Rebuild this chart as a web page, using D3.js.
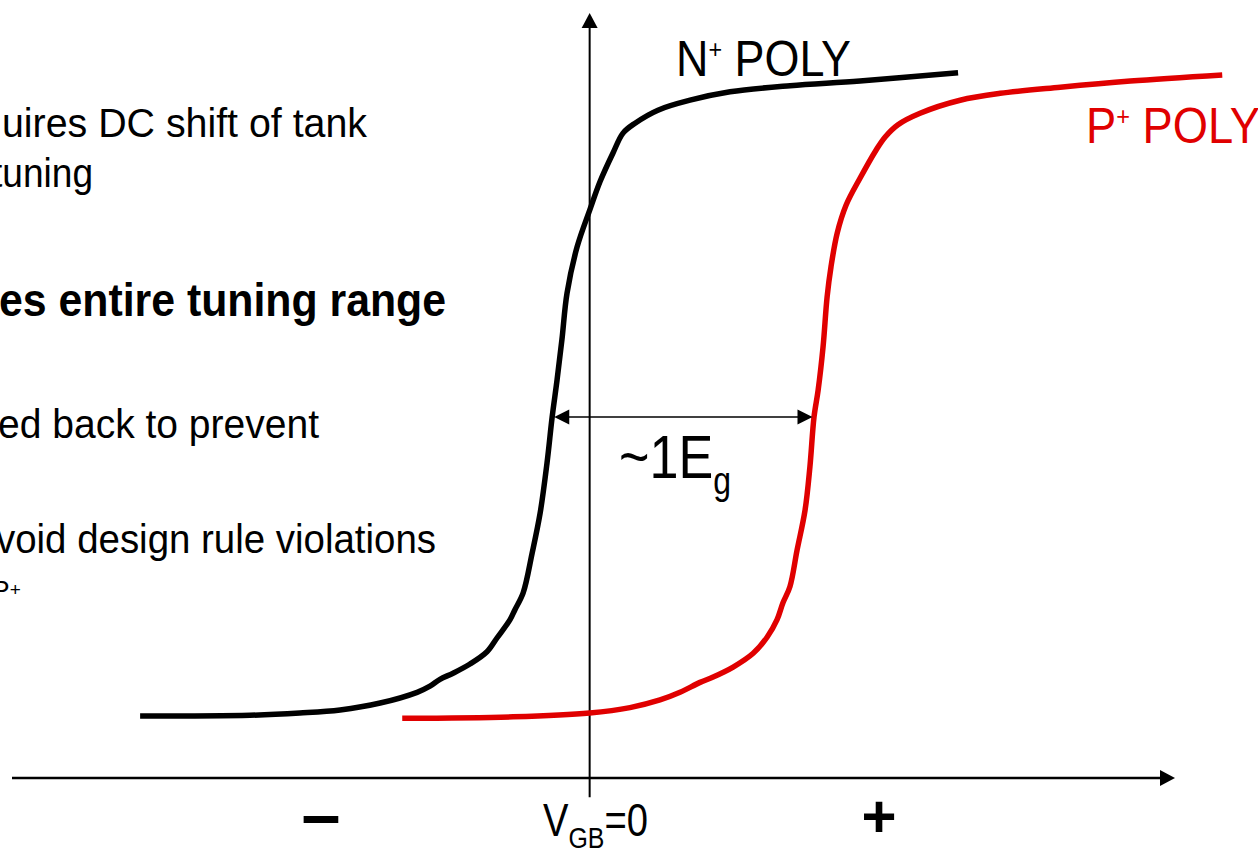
<!DOCTYPE html>
<html>
<head>
<meta charset="utf-8">
<script src="https://cdn.jsdelivr.net/npm/d3@7"></script>
<style>
  html, body { margin: 0; padding: 0; background: #fff; }
  svg { display: block; }
</style>
</head>
<body>
<div id="chart"></div>
<script>
// gate voltage (in units of Eg) vs normalized capacitance C/Cox
const nPoly = [
    [-1.751, 0.081], [-1.323, 0.082], [-1.129, 0.085], [-0.972, 0.089], [-0.816, 0.098],
    [-0.672, 0.112], [-0.622, 0.120], [-0.583, 0.129], [-0.532, 0.137], [-0.466, 0.149],
    [-0.400, 0.165], [-0.361, 0.183], [-0.310, 0.207], [-0.291, 0.220], [-0.259, 0.242],
    [-0.224, 0.294], [-0.193, 0.346], [-0.166, 0.412], [-0.146, 0.472], [-0.127, 0.520],
    [-0.108, 0.573], [-0.088, 0.634], [-0.049, 0.694], [0.002, 0.744], [0.041, 0.780],
    [0.091, 0.817], [0.130, 0.843], [0.177, 0.856], [0.266, 0.873], [0.391, 0.886],
    [0.547, 0.897], [0.781, 0.905], [1.053, 0.911], [1.435, 0.922]
];
const pPoly = [
    [-0.730, 0.078], [-0.298, 0.080], [0.000, 0.085], [0.157, 0.092], [0.274, 0.102],
    [0.352, 0.112], [0.430, 0.125], [0.481, 0.132], [0.559, 0.145], [0.637, 0.163],
    [0.691, 0.184], [0.730, 0.207], [0.753, 0.229], [0.780, 0.250], [0.808, 0.298],
    [0.839, 0.350], [0.858, 0.407], [0.874, 0.472], [0.890, 0.507], [0.909, 0.563],
    [0.925, 0.629], [0.940, 0.668], [0.964, 0.712], [0.999, 0.749], [1.053, 0.784],
    [1.116, 0.821], [1.151, 0.838], [1.201, 0.854], [1.287, 0.869], [1.443, 0.886],
    [1.599, 0.895], [1.833, 0.903], [2.106, 0.911], [2.464, 0.919]
];
// the ~1Eg span between the two curves
const gapLevel = 0.472;
const gapFrom = -0.138;
const gapTo = 0.868;

// slide text that is cut off on the left
const bulletLines = [
    {text: "uires DC shift of tank", x: 2, y: 137, len: 365, size: 40, bold: false},
    {text: "tuning", x: -8, y: 187, len: 101, size: 40, bold: false},
    {text: "es entire tuning range", x: -1, y: 316, len: 447, size: 46, bold: true},
    {text: "ed back to prevent", x: -2, y: 438, len: 321, size: 40, bold: false},
    {text: "void design rule violations", x: -4, y: 553, len: 440, size: 40, bold: false}
];

const width = 1258,
    height = 850;
const font = "'Liberation Sans Narrow', 'Arial Narrow', 'Liberation Sans', Arial, sans-serif";

const svg = d3.select("#chart").append("svg")
    .attr("width", width)
    .attr("height", height)
    .style("font-family", font);

const x = d3.scaleLinear().domain([-2.25, 2.28]).range([12, 1175]);
const y = d3.scaleLinear().domain([0, 1]).range([778, 13]);

// bullet text
svg.selectAll(".bullet")
    .data(bulletLines)
    .enter().append("text")
    .attr("class", "bullet")
    .attr("x", d => d.x)
    .attr("y", d => d.y)
    .attr("font-size", d => d.size)
    .attr("font-weight", d => d.bold ? "bold" : "normal")
    .attr("textLength", d => d.len)
    .attr("lengthAdjust", "spacingAndGlyphs")
    .attr("fill", "#000")
    .text(d => d.text);

let pLine = svg.append("text")
    .attr("x", -9)
    .attr("y", 600)
    .attr("font-size", 28)
    .attr("fill", "#000");
pLine.append("tspan").text("P");
pLine.append("tspan").attr("font-size", 19).attr("dy", -4).text("+");

// axes with arrow heads
svg.append("line")
    .attr("x1", x(0)).attr("x2", x(0))
    .attr("y1", y(-0.025)).attr("y2", y(1) + 14)
    .attr("stroke", "#000").attr("stroke-width", 2);
svg.append("path")
    .attr("d", `M${x(0)},${y(1)} L${x(0) - 8},${y(1) + 15} L${x(0) + 8},${y(1) + 15} Z`)
    .attr("fill", "#000");

svg.append("line")
    .attr("x1", x(-2.25)).attr("x2", x(2.28) - 14)
    .attr("y1", y(0)).attr("y2", y(0))
    .attr("stroke", "#000").attr("stroke-width", 2.5);
svg.append("path")
    .attr("d", `M${x(2.28)},${y(0)} L${x(2.28) - 15},${y(0) - 8} L${x(2.28) - 15},${y(0) + 8} Z`)
    .attr("fill", "#000");

// curves
const line = d3.line()
    .x(d => x(d[0]))
    .y(d => y(d[1]))
    .curve(d3.curveCatmullRom.alpha(0.5));

svg.append("path")
    .datum(nPoly)
    .attr("d", line)
    .attr("fill", "none")
    .attr("stroke", "#000")
    .attr("stroke-width", 5.5)
    .attr("stroke-linejoin", "round")
    .attr("stroke-linecap", "butt");

svg.append("path")
    .datum(pPoly)
    .attr("d", line)
    .attr("fill", "none")
    .attr("stroke", "#e00000")
    .attr("stroke-width", 5.5)
    .attr("stroke-linejoin", "round")
    .attr("stroke-linecap", "butt");

// ~1Eg double arrow
const gy = y(gapLevel),
    gx1 = x(gapFrom),
    gx2 = x(gapTo);
svg.append("line")
    .attr("x1", gx1 + 12).attr("x2", gx2 - 12)
    .attr("y1", gy).attr("y2", gy)
    .attr("stroke", "#000").attr("stroke-width", 1.5);
svg.append("path")
    .attr("d", `M${gx1},${gy} L${gx1 + 15},${gy - 7.5} L${gx1 + 15},${gy + 7.5} Z`)
    .attr("fill", "#000");
svg.append("path")
    .attr("d", `M${gx2},${gy} L${gx2 - 15},${gy - 7.5} L${gx2 - 15},${gy + 7.5} Z`)
    .attr("fill", "#000");

let eg = svg.append("text")
    .attr("x", 619)
    .attr("y", 478)
    .attr("font-size", 62)
    .attr("textLength", 112)
    .attr("lengthAdjust", "spacingAndGlyphs")
    .attr("fill", "#000");
eg.append("tspan").text("~1E");
eg.append("tspan").attr("font-size", 38).attr("dy", 16).text("g");

// curve labels
let nLabel = svg.append("text")
    .attr("x", 676)
    .attr("y", 76)
    .attr("font-size", 50)
    .attr("textLength", 175)
    .attr("lengthAdjust", "spacingAndGlyphs")
    .attr("fill", "#000");
nLabel.append("tspan").text("N");
nLabel.append("tspan").attr("font-size", 26).attr("dy", -18).text("+");
nLabel.append("tspan").attr("dy", 18).text(" POLY");

let pLabel = svg.append("text")
    .attr("x", 1086)
    .attr("y", 143)
    .attr("font-size", 50)
    .attr("textLength", 174)
    .attr("lengthAdjust", "spacingAndGlyphs")
    .attr("fill", "#e00000");
pLabel.append("tspan").text("P");
pLabel.append("tspan").attr("font-size", 26).attr("dy", -18).text("+");
pLabel.append("tspan").attr("dy", 18).text(" POLY");

// x axis labels
svg.append("text")
    .attr("x", 321)
    .attr("y", 838)
    .attr("text-anchor", "middle")
    .attr("font-family", "'Liberation Sans', Arial, sans-serif")
    .attr("font-weight", "bold")
    .attr("font-size", 70)
    .attr("fill", "#000")
    .text("–");

svg.append("text")
    .attr("x", 879)
    .attr("y", 837)
    .attr("text-anchor", "middle")
    .attr("font-family", "'Liberation Sans', Arial, sans-serif")
    .attr("font-weight", "bold")
    .attr("font-size", 60)
    .attr("fill", "#000")
    .text("+");

let vgb = svg.append("text")
    .attr("x", 543)
    .attr("y", 836)
    .attr("font-size", 46)
    .attr("textLength", 105)
    .attr("lengthAdjust", "spacingAndGlyphs")
    .attr("fill", "#000");
vgb.append("tspan").text("V");
vgb.append("tspan").attr("font-size", 30).attr("dy", 12).text("GB");
vgb.append("tspan").attr("dy", -12).text("=0");
</script>
</body>
</html>
